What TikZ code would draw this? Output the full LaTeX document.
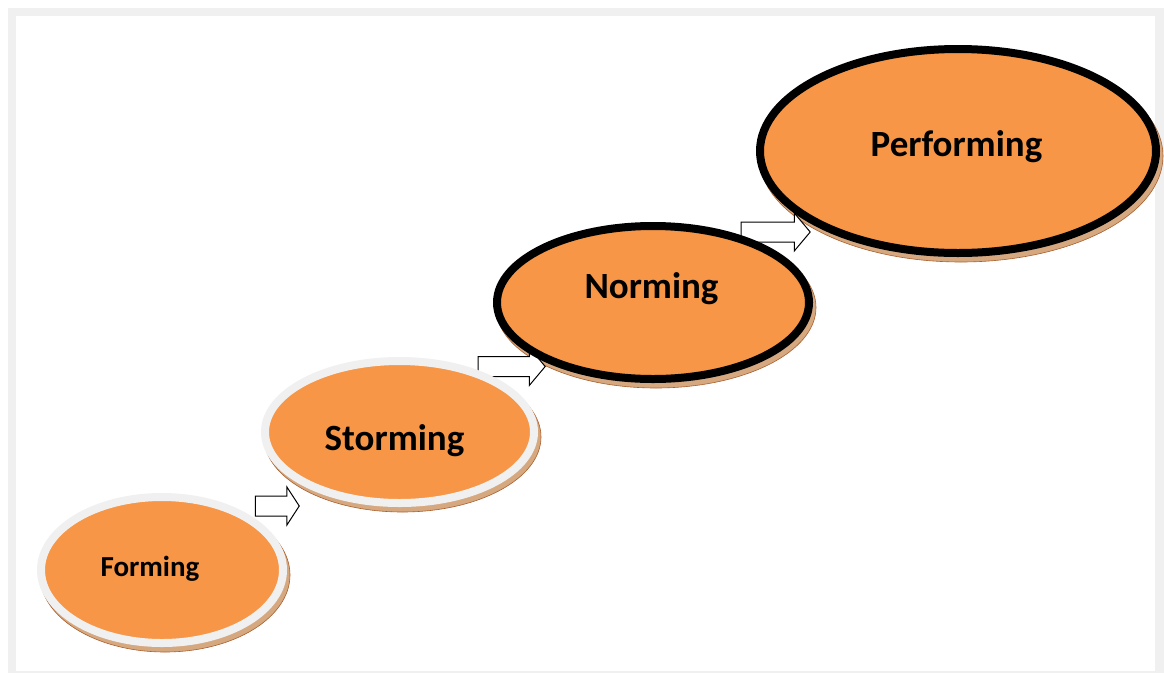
\documentclass[tikz,border=0pt]{standalone}
\usepackage{fontspec}
\setmainfont{Carlito}
\usepackage{xcolor}
\usetikzlibrary{shapes.geometric,shapes.arrows,positioning}

\definecolor{stageorange}{RGB}{247,150,70}
\definecolor{ringgray}{RGB}{240,240,240}
\definecolor{rimbrown}{RGB}{214,168,128}
\definecolor{rimline}{RGB}{170,95,45}

\begin{document}
\begin{tikzpicture}[x=1pt, y=-1pt]
        \tikzstyle{stage} = [ellipse, fill=stageorange, line width=8pt, inner sep=0pt]
        \tikzstyle{rim} = [ellipse, fill=rimbrown, draw=rimline, line width=0.6pt, inner sep=0pt]
        \tikzstyle{stagetext} = [anchor=base, font=\bfseries\fontsize{37}{40}\selectfont]
        \tikzstyle{blockarrow} = [single arrow, draw, fill=white, line width=1pt,
            inner xsep=0pt, inner ysep=9.5pt, single arrow head extend=9pt,
            single arrow tip angle=100, single arrow head indent=0pt]

        \useasboundingbox (0,0) rectangle (1164,673);
        % frame
        \fill[ringgray] (8,8) rectangle (1164,673);
        \fill[white] (16,16) rectangle (1155,671);

        % rims under the stages
        \node [rim, minimum width=250pt, minimum height=154pt] (forming-rim) at (165,575) {};
        \node [rim, minimum width=277pt, minimum height=150pt] (storming-rim) at (402.5,437) {};
        \node [rim, minimum width=320pt, minimum height=161pt] (norming-rim) at (656,307.5) {};
        \node [rim, minimum width=404pt, minimum height=212pt] (performing-rim) at (961,156) {};

        % arrows
        \node [blockarrow, minimum height=44pt, single arrow tip angle=114] (arrow-fs) at (274,506) {};
        \node [blockarrow, minimum height=67pt] (arrow-sn) at (507.5,366.5) {};
        \node [blockarrow, minimum height=69pt] (arrow-np) at (771.5,232) {};

        % stages
        \node [stage, draw=ringgray, minimum width=242pt, minimum height=146pt] (forming) at (162,570) {};
        \node [stage, draw=ringgray, minimum width=269pt, minimum height=142pt] (storming) at (399.5,432) {};
        \node [stage, draw=black, minimum width=312pt, minimum height=153pt] (norming) at (653,302.5) {};
        \node [stage, draw=black, minimum width=396pt, minimum height=204pt] (performing) at (958,151) {};

        \node [stagetext, font=\bfseries\fontsize{29}{32}\selectfont] (forming-text) at (150,576) {Forming};
        \node [stagetext] (storming-text) at (394.5,450) {Storming};
        \node [stagetext] (norming-text) at (651.5,298) {Norming};
        \node [stagetext] (performing-text) at (956.5,156) {Performing};
\end{tikzpicture}
\end{document}
